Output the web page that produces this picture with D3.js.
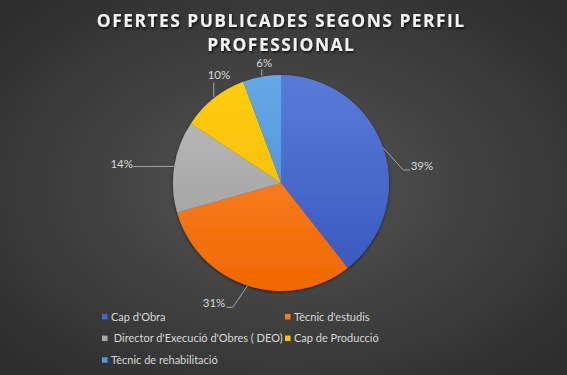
<!DOCTYPE html>
<html><head><meta charset="utf-8">
<script src="https://cdn.jsdelivr.net/npm/d3@7"></script>
<style>html,body{margin:0;padding:0;background:#3a3a3a;}svg{display:block;}</style>
</head><body>
<script>
const categories = ["Cap d'Obra", "Tècnic d'estudis", " Director d'Execució d'Obres ( DEO)", "Cap de Producció", "Tècnic de rehabilitació"];
const values = [39.4, 31.2, 13.7, 10.0, 5.7];
const colors = ["#4169cf", "#fb7a16", "#a9a9a9", "#fcc400", "#4e9be0"];
const colorsLight = ["#5a7bd8", "#ff8c3a", "#bdbdbd", "#ffcc10", "#66a8e6"];
const colorsDark = ["#3656bd", "#f06800", "#9a9a9a", "#f2b800", "#3d8bd4"];
const titleLines = ["OFERTES PUBLICADES SEGONS PERFIL", "PROFESSIONAL"];
// label placement relative to each slice's edge point (styling only)
const labelOffsets = [[38.9, 17.8], [-33.6, 17.3], [-52.6, -2.8], [5.2, -24], [2.4, -14]];
const leaderPaths = [
  [[0, 0], [20.2, 22.3], [26.9, 22.3]],
  [[0, 0], [-14.9, 21.6], [-20.9, 21.6]],
  [[0, 0], [-41, 0]],
  [[0, -1.5], [0, -15.8]],
  [[0, -0.7], [0, -7.4]]
];

const W = 567, H = 375;
const svg = d3.select("body").append("svg").attr("width", W).attr("height", H);
const defs = svg.append("defs");
const bg = defs.append("radialGradient").attr("id", "bg").attr("cx", "50%").attr("cy", "50%").attr("r", "65%");
bg.append("stop").attr("offset", "0%").attr("stop-color", "#555555");
bg.append("stop").attr("offset", "100%").attr("stop-color", "#2e2e2e");
svg.append("rect").attr("width", W).attr("height", H).attr("fill", "url(#bg)");

const sh = defs.append("filter").attr("id", "shadow").attr("x", "-20%").attr("y", "-20%").attr("width", "140%").attr("height", "140%");
sh.append("feDropShadow").attr("dx", 0).attr("dy", 1).attr("stdDeviation", 1.5).attr("flood-color", "#000").attr("flood-opacity", 0.6);
const tsh = defs.append("filter").attr("id", "tshadow");
tsh.append("feDropShadow").attr("dx", 1).attr("dy", 1.5).attr("stdDeviation", 1.2).attr("flood-color", "#000").attr("flood-opacity", 0.8);

const cx = 281, cy = 183, r = 108;
colors.forEach((c, i) => {
  const g = defs.append("linearGradient").attr("id", "g" + i).attr("gradientUnits", "userSpaceOnUse")
    .attr("x1", 0).attr("y1", -r).attr("x2", 0).attr("y2", r);
  g.append("stop").attr("offset", "0%").attr("stop-color", colorsLight[i]);
  g.append("stop").attr("offset", "100%").attr("stop-color", colorsDark[i]);
});

// title
const ls = 1.5;
svg.append("g").attr("filter", "url(#tshadow)").selectAll("text").data(titleLines).join("text")
  .attr("x", 280.5 + ls / 2).attr("y", (d, i) => 26.7 + i * 24.3)
  .attr("text-anchor", "middle").attr("fill", "#f2f2f2")
  .style("font-family", "'Open Sans', sans-serif").style("font-weight", 700)
  .style("font-size", "17.4px").style("letter-spacing", ls + "px").text(d => d);

const pie = d3.pie().sort(null).value(d => d);
const arcs = pie(values);
const arc = d3.arc().innerRadius(0).outerRadius(r);
const total = d3.sum(values);

const pg = svg.append("g").attr("transform", `translate(${cx},${cy})`);
pg.append("g").attr("filter", "url(#shadow)").selectAll("path").data(arcs).join("path")
  .attr("d", arc).attr("fill", (d, i) => `url(#g${i})`);

// labels
const fmt = d3.format(".0%");
const labelFont = "Lato, 'Open Sans', sans-serif";
arcs.forEach((d, i) => {
  const a = (d.startAngle + d.endAngle) / 2;
  const ex = Math.sin(a) * r, ey = -Math.cos(a) * r;
  const [ox, oy] = labelOffsets[i];
  const pts = leaderPaths[i].map(([x, y]) => [ex + x, ey + y]);
  pg.append("path").attr("d", d3.line()(pts)).attr("fill", "none").attr("stroke", "#a6a6a6").attr("stroke-width", 1);
  pg.append("text").attr("x", ex + ox).attr("y", ey + oy).attr("dy", "0.35em")
    .attr("text-anchor", "middle").attr("fill", "#d9d9d9")
    .style("font-family", labelFont).style("font-size", "11.5px")
    .text(fmt(d.data / total));
});

// legend
const legPos = [[102, 316.7], [285, 316.7], [102, 338.3], [285, 338.3], [102, 360]];
const lg = svg.append("g").selectAll("g").data(categories).join("g")
  .attr("transform", (d, i) => `translate(${legPos[i][0]},${legPos[i][1]})`);
lg.append("rect").attr("x", 0).attr("y", -2.75).attr("width", 5.5).attr("height", 5.5).attr("fill", (d, i) => colors[i]);
lg.append("text").attr("x", 9).attr("y", 0).attr("dy", "0.35em").attr("fill", "#d9d9d9")
  .style("white-space", "pre")
  .style("font-family", labelFont).style("font-size", "11px").text(d => d);
</script>
</body></html>
